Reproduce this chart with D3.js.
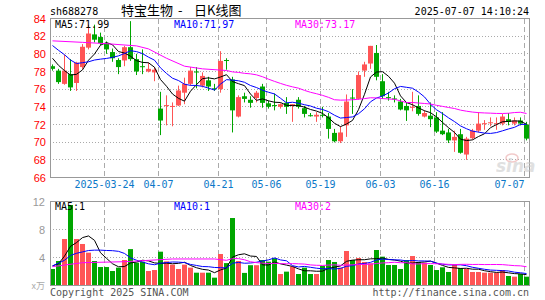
<!DOCTYPE html>
<html>
<head>
<meta charset="utf-8">
<script src="https://cdn.jsdelivr.net/npm/d3@7/dist/d3.min.js"></script>
<style>
body { margin: 0; background: #fff; }
svg { display: block; }
.mono { font-family: "DejaVu Sans Mono", "Liberation Mono", monospace; font-size: 10px; }
</style>
</head>
<body>
<svg id="chart" width="545" height="300"></svg>
<script>
// daily candles, 2025-03-11 .. 2025-07-07
var tickLabels = ["2025-03-24", "04-07", "04-21", "05-06", "05-19", "06-03", "06-16", "07-07"];
var tickIndex  = [9, 18, 28, 36, 45, 55, 64, 79];

var open  = [78.6,78.1,76.6,77.7,76.7,78.5,80.7,82.2,81.9,81.2, 80.2,79.3,79.25,80.75,79.4,78.6,78.0,77.9,73.8,74.1,
             74.0,74.15,75.6,76.6,78.0,76.4,77.0,76.1,76.0,79.3, 77.1,72.9,75.2,74.8,75.0,76.3,74.4,74.2,74.0,74.45,
             74.1,74.8,73.85,73.05,72.9,73.1,72.9,71.05,70.1,71.9, 75.05,74.9,78.1,78.9,80.1,76.9,75.1,74.95,74.6,74.1,
             73.95,74.1,72.9,73.0,72.8,71.3,71.1,70.2,70.9,68.6, 70.45,71.3,72.05,72.15,72.05,72.1,72.6,72.1,72.45,72.0];
var high  = [78.8,78.3,79.9,79.4,79.1,81.1,83.3,83.3,82.4,81.4, 80.6,79.5,80.9,83.7,80.0,80.5,79.0,78.5,75.7,75.3,
             74.5,76.4,77.3,78.5,78.5,77.9,77.4,76.6,80.3,79.5, 77.4,75.3,75.6,75.2,75.8,76.6,74.7,75.5,74.4,75.1,
             74.3,75.1,74.1,73.3,73.4,74.0,73.3,71.5,71.8,75.4, 76.0,78.0,79.1,80.9,81.0,77.7,75.7,75.3,74.9,74.5,
             75.7,75.3,73.6,74.5,73.4,73.4,71.5,71.3,71.5,70.6, 71.5,73.4,72.5,72.8,72.8,73.2,73.3,72.8,72.8,72.3];
var low   = [78.1,76.6,76.5,75.8,75.8,78.3,80.5,81.3,81.0,80.0, 79.1,77.7,78.6,79.2,77.6,77.7,77.9,76.9,70.8,71.9,
             71.8,74.1,74.3,76.4,76.1,76.2,75.8,75.8,75.6,78.2, 71.1,72.8,74.5,73.9,74.5,73.9,73.8,73.6,73.8,73.2,
             72.3,73.8,72.8,72.9,72.3,72.8,70.4,69.98,69.9,70.6, 73.2,74.8,77.4,78.3,77.0,74.9,74.7,74.5,73.6,72.4,
             73.5,73.0,72.8,71.7,71.05,70.8,69.9,68.9,68.7,68.0, 70.3,71.1,71.4,71.8,71.4,71.9,71.9,71.9,71.9,70.2];
var close = [78.3,76.8,78.1,76.2,79.0,80.8,82.3,81.6,81.2,80.5, 79.5,78.5,80.75,79.4,78.0,78.5,78.3,78.2,72.45,74.2,
             74.1,75.85,76.6,78.1,77.9,77.5,76.3,76.0,79.2,79.2, 73.6,75.1,74.9,74.45,75.6,74.45,74.0,74.1,74.3,74.0,
             74.3,74.0,73.2,73.0,73.1,73.0,71.5,70.1,71.1,74.6, 75.0,77.6,78.8,80.9,77.4,75.2,75.0,74.9,73.7,73.6,
             74.0,73.2,73.3,72.6,71.2,70.9,70.2,70.6,68.8,70.4, 71.3,72.1,72.15,72.25,72.15,72.9,72.3,72.45,72.1,70.4];
// volume, x万 (ten-thousand shares)
var volume = [2.36,3.5,6.64,11.5,6.64,5.93,4.69,3.5,2.64,2.64, 2.07,2.55,3.64,5.2,3.26,3.4,2.07,2.21,4.83,3.45,
              2.98,2.36,2.98,2.55,1.83,1.83,1.83,1.12,4.5,3.2, 9.64,3.5,1.8,2.9,2.9,3.64,3.4,3.9,1.64,1.98,
              2.7,1.64,2.55,1.64,1.64,2.79,3.64,3.36,2.55,4.93, 3.64,3.93,3.36,3.17,5.07,4.12,2.93,2.93,2.36,3.64,
              4.21,3.36,3.26,2.93,2.21,2.6,1.93,2.93,2.5,2.36, 1.93,1.93,1.83,1.83,1.83,2.21,1.36,1.26,1.64,1.26];

var priceMa5Head  = [[0,79.5],[1,78.7],[2,78.1],[3,77.6]];
var priceMa10Head = [[0,80.94],[1,80.4],[2,79.9],[3,79.3],[4,78.9],[5,79.0],[6,79.1],[7,79.3],[8,79.4]];
var priceMa30Head = [[0,81.47],[5,81.3],[9,81.15],[14,80.9],[16,80.56],[19,79.5],[22,78.6],[25,78.3]];
var volMa5Head  = [[0,2.8],[1,3.1],[2,4.2],[3,5.6]];
var volMa10Head = [[0,2.8],[1,3.2],[2,3.6],[3,4.3],[4,4.6],[5,4.8],[6,5.0],[7,5.05],[8,5.05]];
var volMa30Head = [[0,2.69],[5,3.26],[12,3.4],[20,3.79],[27,3.79]];

// legend readings as printed on the chart
var maNames = ["MA5:", "MA10:", "MA30:"];
var priceMaLegend = ["71.99", "71.97", "73.17"];
var volMaLegend = ["1", "1", "2"];

var priceTicks = [66,68,70,72,74,76,78,80,82,84];
var volTicks = [4,8,12];

var RED = "#ff5555", GREEN = "#00a600", GRID = "#aaaaaa", FRAME = "#999999";
var MA_COLORS = ["#000000", "#0000ff", "#ff00ff"];

var svg = d3.select("#chart");
var n = close.length;

var x = d3.scaleLinear().domain([0, 80]).range([50, 530]);
var y = d3.scaleLinear().domain([66, 84]).range([177.5, 18.5]);
var yv = d3.scaleLinear().domain([0, 12]).range([285.5, 201.5]);

function maSeries(vals, len, head) {
    var pts = head.slice();
    for (var i = len - 1; i < vals.length; i++) {
        pts.push([i, d3.mean(vals.slice(i - len + 1, i + 1))]);
    }
    return pts;
}
function isUp(i) { return close[i] >= open[i]; }
function crisp(v) { return Math.round(v - 0.5) + 0.5; }

// ---------- main price panel ----------
var g = svg.append("g");
g.selectAll("line.hgrid").data(priceTicks.slice(1, -1)).enter().append("line")
    .attr("x1", 50).attr("x2", 529)
    .attr("y1", function(d) { return crisp(y(d)); })
    .attr("y2", function(d) { return crisp(y(d)); })
    .attr("stroke", GRID).attr("stroke-dasharray", "1,2");

function vgrid(sel, top, bottom) {
    sel.selectAll("line.vgrid").data(tickIndex).enter().append("line")
        .attr("x1", function(d) { return x(d) + 0.5; })
        .attr("x2", function(d) { return x(d) + 0.5; })
        .attr("y1", top).attr("y2", bottom)
        .attr("stroke", GRID).attr("stroke-dasharray", "5,3");
}
vgrid(g, 19, 177);

var candles = g.selectAll("g.candle").data(d3.range(n)).enter().append("g");
candles.append("line")
    .attr("x1", function(i) { return x(i) + 2.5; })
    .attr("x2", function(i) { return x(i) + 2.5; })
    .attr("y1", function(i) { return y(high[i]); })
    .attr("y2", function(i) { return y(low[i]); })
    .attr("stroke", function(i) { return isUp(i) ? RED : GREEN; });
candles.append("rect")
    .attr("x", function(i) { return x(i); })
    .attr("width", 5)
    .attr("y", function(i) { return y(Math.max(open[i], close[i])); })
    .attr("height", function(i) { return Math.max(1, Math.abs(y(open[i]) - y(close[i]))); })
    .attr("fill", function(i) { return isUp(i) ? RED : GREEN; });

var line = d3.line().x(function(d) { return x(d[0]) + 2.5; });
var priceMas = [maSeries(close, 5, priceMa5Head), maSeries(close, 10, priceMa10Head), maSeries(close, 30, priceMa30Head)];
priceMas.forEach(function(pts, k) {
    g.append("path").datum(pts)
        .attr("d", line.y(function(d) { return y(d[1]); }))
        .attr("fill", "none").attr("stroke", MA_COLORS[k]).attr("stroke-width", 1);
});

g.append("rect").attr("x", 50.5).attr("y", 18.5).attr("width", 479).attr("height", 159)
    .attr("fill", "none").attr("stroke", FRAME);

var yAxis = g.append("g").attr("transform", "translate(50,0)")
    .call(d3.axisLeft(y).tickValues(priceTicks).tickSize(0).tickPadding(4).tickFormat(d3.format("d")));
yAxis.select(".domain").remove();
yAxis.selectAll("text").attr("fill", "#ff0000")
    .style("font-family", "'Liberation Sans', Arial, sans-serif").style("font-size", "11px");

var xAxis = g.append("g").attr("transform", "translate(0,181)")
    .call(d3.axisBottom(x).tickValues(tickIndex).tickSize(0).tickPadding(0)
        .tickFormat(function(d, i) { return tickLabels[i]; }));
xAxis.select(".domain").remove();
xAxis.selectAll("text").attr("class", "mono").attr("fill", "#0b78c8")
    .attr("dy", "0.71em").style("font-size", "10px");
// last date label is pulled inside the frame
xAxis.selectAll(".tick").filter(function(d) { return d === tickIndex[tickIndex.length - 1]; })
    .select("text").attr("text-anchor", "end").attr("x", 0);

// legend of main panel
var legendX = [55, 174, 295];
maNames.forEach(function(lbl, k) {
    g.append("text").attr("class", "mono").attr("x", legendX[k]).attr("y", 27.5)
        .attr("fill", MA_COLORS[k]).text(lbl + priceMaLegend[k]);
});

// header
svg.append("text").attr("x", 50).attr("y", 15).attr("class", "mono").attr("fill", "#000").text("sh688278");
var title = svg.append("text").attr("y", 15).attr("fill", "#000")
    .style("font-family", "'Noto Sans CJK SC', sans-serif").style("font-size", "13px");
title.append("tspan").attr("x", 121).text("特宝生物");
title.append("tspan").attr("x", 178).text("-");
title.append("tspan").attr("x", 194).text("日K线图");
svg.append("text").attr("x", 529).attr("y", 15).attr("text-anchor", "end").attr("class", "mono")
    .attr("fill", "#000").text("2025-07-07 14:10:24");

// sina watermark
var wm = svg.append("g").attr("opacity", 0.55);
wm.append("ellipse").attr("cx", 512).attr("cy", 158).attr("rx", 6).attr("ry", 4)
    .attr("fill", "none").attr("stroke", "#e8a0a0").attr("stroke-width", 1.5);
wm.append("text").attr("x", 496).attr("y", 172)
    .style("font-family", "'DejaVu Sans', sans-serif").style("font-size", "17px")
    .style("font-style", "italic").style("font-weight", "bold").attr("fill", "#c8c8c8").text("sina");

// ---------- volume panel ----------
var gv = svg.append("g");
gv.selectAll("line.hgrid").data([4, 8]).enter().append("line")
    .attr("x1", 50).attr("x2", 529)
    .attr("y1", function(d) { return crisp(yv(d)); })
    .attr("y2", function(d) { return crisp(yv(d)); })
    .attr("stroke", GRID).attr("stroke-dasharray", "1,2");
vgrid(gv, 202, 285);

gv.selectAll("rect.bar").data(d3.range(n)).enter().append("rect")
    .attr("x", function(i) { return x(i); })
    .attr("width", 5)
    .attr("y", function(i) { return yv(volume[i]); })
    .attr("height", function(i) { return yv(0) - yv(volume[i]); })
    .attr("fill", function(i) { return isUp(i) ? RED : GREEN; });

var volMas = [maSeries(volume, 5, volMa5Head), maSeries(volume, 10, volMa10Head), maSeries(volume, 30, volMa30Head)];
volMas.forEach(function(pts, k) {
    gv.append("path").datum(pts)
        .attr("d", line.y(function(d) { return yv(d[1]); }))
        .attr("fill", "none").attr("stroke", MA_COLORS[k]).attr("stroke-width", 1);
});

gv.append("rect").attr("x", 50.5).attr("y", 201.5).attr("width", 479).attr("height", 84)
    .attr("fill", "none").attr("stroke", FRAME);

var vAxis = gv.append("g").attr("transform", "translate(50,0)")
    .call(d3.axisLeft(yv).tickValues(volTicks).tickSize(0).tickPadding(5));
vAxis.select(".domain").remove();
vAxis.selectAll("text").attr("fill", "#999")
    .style("font-family", "'Liberation Sans', Arial, sans-serif").style("font-size", "11px");
gv.append("text").attr("x", 45).attr("y", 289).attr("text-anchor", "end").attr("fill", "#aaa")
    .style("font-family", "'Noto Sans CJK SC', sans-serif").style("font-size", "9px").text("x万");

maNames.forEach(function(lbl, k) {
    gv.append("text").attr("class", "mono").attr("x", legendX[k]).attr("y", 210)
        .attr("fill", MA_COLORS[k]).text(lbl + volMaLegend[k]);
});

// footer
svg.append("text").attr("x", 50).attr("y", 296).attr("class", "mono").attr("fill", "#555")
    .text("Copyright 2025 SINA.COM");
svg.append("text").attr("x", 529).attr("y", 296).attr("text-anchor", "end").attr("class", "mono")
    .attr("fill", "#555").text("http://finance.sina.com.cn");
</script>
</body>
</html>
